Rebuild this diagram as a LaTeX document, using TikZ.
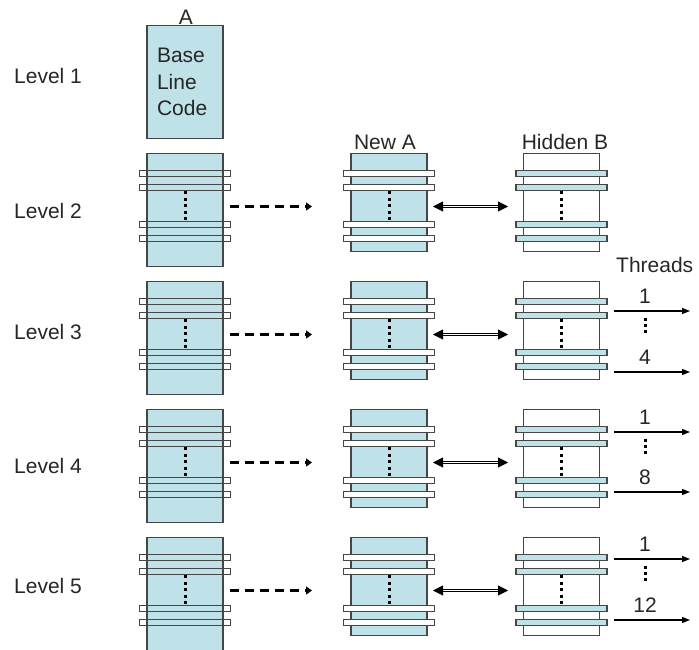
\documentclass[tikz,border=0pt]{standalone}
\usepackage{fontspec}
\setmainfont{Liberation Sans}
\usetikzlibrary{arrows.meta}
\definecolor{codeblue}{RGB}{190,226,232}
\definecolor{edgegray}{RGB}{70,70,70}
\tikzset{
   level label/.style={anchor=base west, inner sep=0pt, text=black!85, font=\fontsize{21}{26}\selectfont},
   head label/.style={anchor=base, inner sep=0pt, text=black!85, font=\fontsize{21}{26}\selectfont},
   code box/.style={draw=edgegray, line width=1.1pt, minimum width=76pt, inner sep=0pt, anchor=north},
   full box/.style={code box, minimum height=113pt},
   short box/.style={code box, minimum height=98pt},
   strip/.style={draw=edgegray, line width=1.1pt, minimum width=91pt, minimum height=6.5pt, inner sep=0pt},
   dotline/.style={line width=3pt, dash pattern=on 3pt off 3.4pt},
   copy arrow/.style={line width=2.6pt, dash pattern=on 9pt off 6pt, -{Triangle[length=6pt,width=8pt]}},
   swap arrow/.style={draw=black, line width=0.9pt, double=white, double distance=1.6pt,
       {Triangle[length=10pt,width=10pt]}-{Triangle[length=10pt,width=10pt]}},
   thread arrow/.style={line width=1.1pt, -{Triangle[length=8pt,width=6pt]}},
}
\begin{document}
\begin{tikzpicture}[x=1pt, y=-1pt]
    \useasboundingbox (0,0) rectangle (699,649);

    % level 1
    \node[level label] (lvl1) at (14,83) {Level 1};
    \node[full box, fill=codeblue, text width=56pt, align=left, text=black!85,
          font=\fontsize{21}{26.5}\selectfont] (a1) at (185,25) {Base\\Line\\Code};
    \node[head label] (heada) at (186,24) {A};
    \node[head label] (headna) at (385,149) {New A};
    \node[head label] (headhb) at (565,149) {Hidden B};

    % levels 2 to 5
    \foreach \lv/\yt/\ly in {2/153/218, 3/281/339, 4/409/473, 5/537/593}{
      \node[level label] (lvl\lv) at (14,\ly) {Level \lv};
      \node[full box, fill=codeblue] (a\lv) at (185,\yt) {};
      \node[short box, fill=codeblue] (na\lv) at (389,\yt) {};
      \node[short box, fill=white] (hb\lv) at (561.5,\yt) {};
      \foreach \k/\dy in {1/20.5, 2/34.5, 3/71.5, 4/85.5}{
        \node[strip] (sa\lv-\k) at (185,\yt+\dy) {};
        \node[strip, fill=white] (sn\lv-\k) at (389,\yt+\dy) {};
        \node[strip, fill=codeblue] (sh\lv-\k) at (561.5,\yt+\dy) {};
      }
      \draw[dotline] (sa\lv-2.south) -- (sa\lv-3.north);
      \draw[dotline] (sn\lv-2.south) -- (sn\lv-3.north);
      \draw[dotline] (sh\lv-2.south) -- (sh\lv-3.north);

      \coordinate (ds\lv) at (230,\yt+53.5);
      \coordinate (de\lv) at (312,\yt+53.5);
      \draw[copy arrow] (ds\lv) -- (de\lv);
      \coordinate (ws\lv) at (433,\yt+53.5);
      \coordinate (we\lv) at (508,\yt+53.5);
      \draw[swap arrow] (ws\lv) -- (we\lv);
    }

    % threads
    \node[level label] (thr) at (616,272) {Threads};
    \foreach \lv/\ya/\yb/\n in {3/311/372/4, 4/432/492/8, 5/559/620/12}{
      \coordinate (ts\lv) at (614,\ya);
      \coordinate (te\lv) at (690,\ya);
      \coordinate (us\lv) at (614,\yb);
      \coordinate (ue\lv) at (690,\yb);
      \draw[thread arrow] (ts\lv) -- (te\lv);
      \draw[thread arrow] (us\lv) -- (ue\lv);
      \node[head label] (tn\lv) at (645,\ya-7.5) {1};
      \node[head label] (tm\lv) at (645,\yb-7.5) {\n};
      \coordinate (ds\lv) at (645,\ya+6.5);
      \coordinate (de\lv) at (645,\ya+22);
      \draw[dotline] (ds\lv) -- (de\lv);
    }

\end{tikzpicture}
\end{document}
